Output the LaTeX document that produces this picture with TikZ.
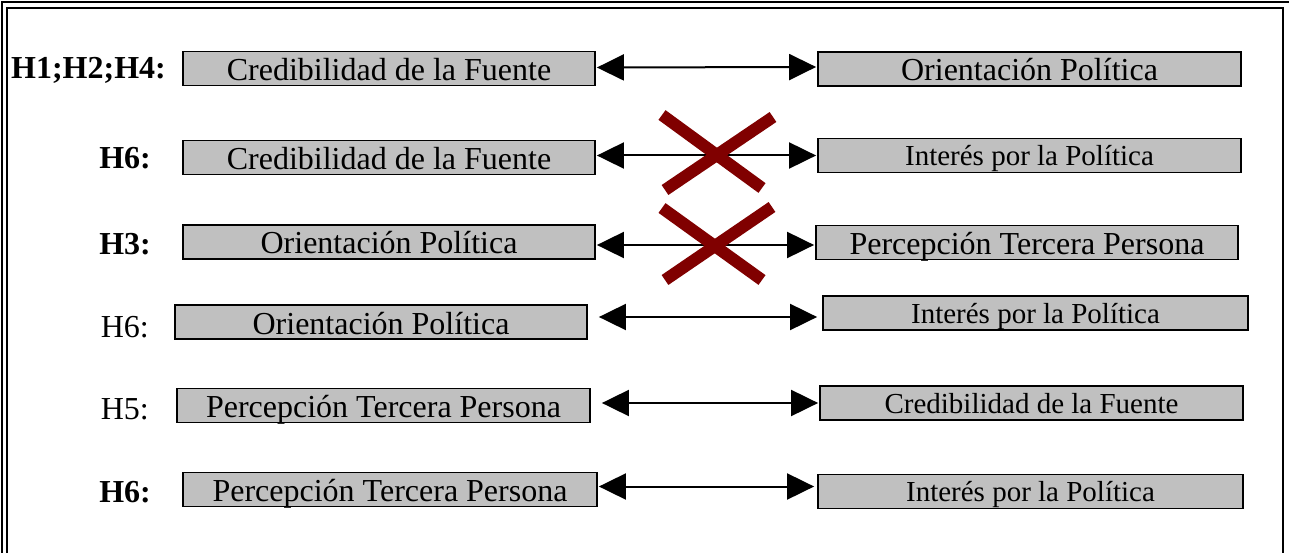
\documentclass[tikz,border=0pt]{standalone}
\usepackage{fontspec}
\setmainfont{Liberation Serif}
\usetikzlibrary{arrows.meta,calc}
\definecolor{boxgray}{RGB}{192,192,192}
\definecolor{crossred}{RGB}{128,0,0}
\tikzset{
  varbox/.style={draw=black, fill=boxgray, line width=1.8pt, inner sep=0pt,
    minimum height=34pt, text height=24pt, text depth=0pt, font=\fontsize{32}{36}\selectfont},
  smalltxt/.style={font=\fontsize{29}{33}\selectfont, text height=20pt},
  hlab/.style={anchor=east, inner sep=0pt, font=\fontsize{32}{36}\selectfont},
  hbold/.style={hlab, font=\fontsize{32}{36}\selectfont\bfseries},
  biarrow/.style={line width=2pt, {Triangle[length=27pt,width=26pt]}-{Triangle[length=27pt,width=26pt]}},
  crossline/.style={line width=12pt, crossred},
  frameline/.style={line width=1.2pt}
}
\begin{document}
\begin{tikzpicture}[x=1pt,y=-1pt]
\useasboundingbox (0,0) rectangle (1289,553);
% frame
\draw[frameline] (2,553) -- (2,2) -- (1289,2);
\draw[frameline] (7,553) -- (7,8) -- (1283,8) -- (1283,553);

% row 1
\node[varbox, minimum width=412pt] (L1) at (389,68.5) {Credibilidad de la Fuente};
\node[varbox, minimum width=423pt] (R1) at (1029.5,69) {Orientación Política};
\node[hbold] (H1) at (166,70) {H1;H2;H4:};
\draw[biarrow] ($(L1.east)+(1,-1)$) -- ($(R1.west)+(-1,-2)$);

% row 2
\node[varbox, minimum width=412pt] (L2) at (389,157.5) {Credibilidad de la Fuente};
\node[varbox, smalltxt, minimum width=423pt] (R2) at (1029.5,155.5) {Interés por la Política};
\node[hbold] (H2) at (151,158) {H6:};
\draw[biarrow] ($(L2.east)+(1,-2)$) -- ($(R2.west)+(-1,0)$);

% row 3
\node[varbox, minimum width=412pt] (L3) at (389,242) {Orientación Política};
\node[varbox, minimum width=422pt] (R3) at (1027,242.5) {Percepción Tercera Persona};
\node[hbold] (H3) at (151,244) {H3:};
\draw[biarrow] ($(L3.east)+(1,3)$) -- ($(R3.west)+(-1,2.5)$);

% row 4
\node[varbox, minimum width=412pt] (L4) at (381,322) {Orientación Política};
\node[varbox, smalltxt, minimum width=425pt] (R4) at (1035.5,313) {Interés por la Política};
\node[hlab] (H4) at (149,327) {H6:};
\draw[biarrow] ($(L4.east)+(11,-5)$) -- ($(R4.west)+(-5,4)$);

% row 5
\node[varbox, minimum width=413pt] (L5) at (383.5,405.5) {Percepción Tercera Persona};
\node[varbox, smalltxt, minimum width=423pt] (R5) at (1031.5,403) {Credibilidad de la Fuente};
\node[hlab] (H5) at (149,409) {H5:};
\draw[biarrow] ($(L5.east)+(11,-2.5)$) -- ($(R5.west)+(-1,0)$);

% row 6
\node[varbox, minimum width=414pt] (L6) at (390,489.5) {Percepción Tercera Persona};
\node[varbox, smalltxt, minimum width=425pt] (R6) at (1030.5,491.5) {Interés por la Política};
\node[hbold] (H6) at (151,492) {H6:};
\draw[biarrow] ($(L6.east)+(1,-3)$) -- ($(R6.west)+(-3,-5)$);

% crosses
\draw[crossline] (662,115) -- (762,188);
\draw[crossline] (773,117) -- (665,190);
\draw[crossline] (662,208) -- (762,280);
\draw[crossline] (772,207) -- (665,280);
\end{tikzpicture}
\end{document}
